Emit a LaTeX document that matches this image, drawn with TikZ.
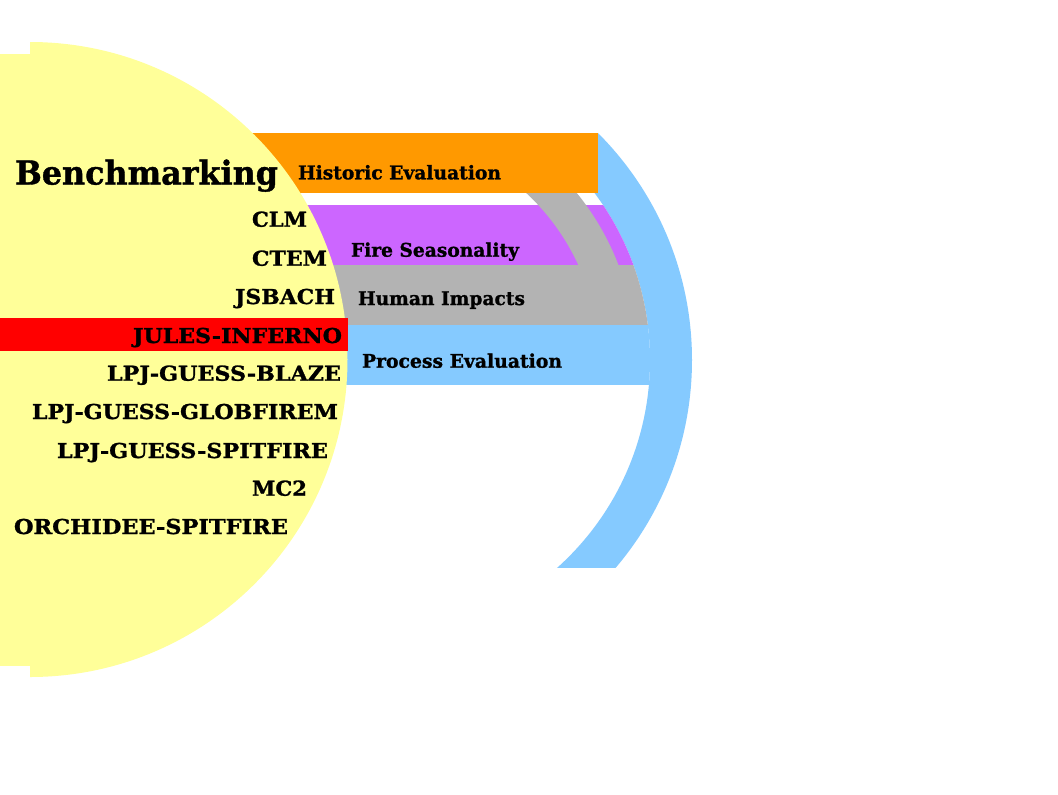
\documentclass[tikz,border=0pt]{standalone}
\usepackage{fontspec}
\setmainfont{DejaVu Serif}[BoldFeatures={FakeBold=1.2}]
\usepackage{graphicx}
\newdimen\mypx \mypx=0.75pt
\newcommand\fitw[2]{\resizebox{#1\mypx}{\height}{#2}}
\definecolor{yellowC}{RGB}{255,255,153}
\definecolor{orangeC}{RGB}{255,153,0}
\definecolor{purpleC}{RGB}{204,102,255}
\definecolor{greyC}{RGB}{179,179,179}
\definecolor{blueC}{RGB}{133,202,255}
\definecolor{redC}{RGB}{255,0,0}
\tikzset{
  lbl/.style={inner sep=0pt, outer sep=0pt, font=\bfseries},
  big/.style={lbl, font=\bfseries\fontsize{24.7}{26}\selectfont},
  model/.style={lbl, anchor=base west, font=\bfseries\fontsize{15.4}{17}\selectfont},
  cat/.style={lbl, anchor=base west, font=\bfseries\fontsize{14.1}{16}\selectfont},
}
\begin{document}
\begin{tikzpicture}[x=0.75pt,y=-0.75pt]
\useasboundingbox (0,0) rectangle (1058,794);
\fill[white] (0,0) rectangle (1058,794);
% outer blue ring
\begin{scope}
  \clip (371,133) rectangle (800,567);
  \fill[blueC, even odd rule] (371,360) circle[radius=321] (371,360) circle[radius=279];
\end{scope}
% bands clipped to inner circle
\begin{scope}
  \clip (371,360) circle[radius=279];
  \fill[purpleC] (200,205) rectangle (700,265);
  \begin{scope}
    \clip (371,150) rectangle (800,265.5);
    \fill[greyC, even odd rule] (371,360) circle[radius=265] (371,360) circle[radius=228];
  \end{scope}
  \fill[greyC] (200,265) rectangle (700,325);
  \fill[blueC] (200,325) rectangle (700,385);
\end{scope}
% orange band
\fill[orangeC] (200,133) rectangle (598,193);
% yellow disk
\begin{scope}
  \clip (30,0) rectangle (400,794);
  \fill[yellowC] (30,359.5) circle[radius=317.5];
\end{scope}
\fill[yellowC] (0,54) rectangle (30,666);
% red highlight
\fill[redC] (0,318) rectangle (348,351);
% texts
\node[big, anchor=base west] (bench) at (15,184.5) {\fitw{263}{Benchmarking}};
\node[model] (clm) at (252,226.7) {\fitw{55}{CLM}};
\node[model] (ctem) at (252,265.7) {\fitw{75}{CTEM}};
\node[model] (jsbach) at (235,304) {\fitw{100}{JSBACH}};
\node[model] (jules) at (133,343) {\fitw{209}{JULES-INFERNO}};
\node[model] (blaze) at (107,380.7) {\fitw{234}{LPJ-GUESS-BLAZE}};
\node[model] (globfirem) at (32,419) {\fitw{306}{LPJ-GUESS-GLOBFIREM}};
\node[model] (lpjspit) at (57,458) {\fitw{271}{LPJ-GUESS-SPITFIRE}};
\node[model] (mc2) at (252,495.7) {\fitw{55}{MC2}};
\node[model] (orchidee) at (14,534) {\fitw{274}{ORCHIDEE-SPITFIRE}};
\node[cat] (historic) at (298,179.3) {\fitw{203}{Historic Evaluation}};
\node[cat] (fire) at (351,256.7) {\fitw{168}{Fire Seasonality}};
\node[cat] (human) at (358,305) {\fitw{167}{Human Impacts}};
\node[cat] (process) at (362,367.7) {\fitw{200}{Process Evaluation}};
\end{tikzpicture}
\end{document}
